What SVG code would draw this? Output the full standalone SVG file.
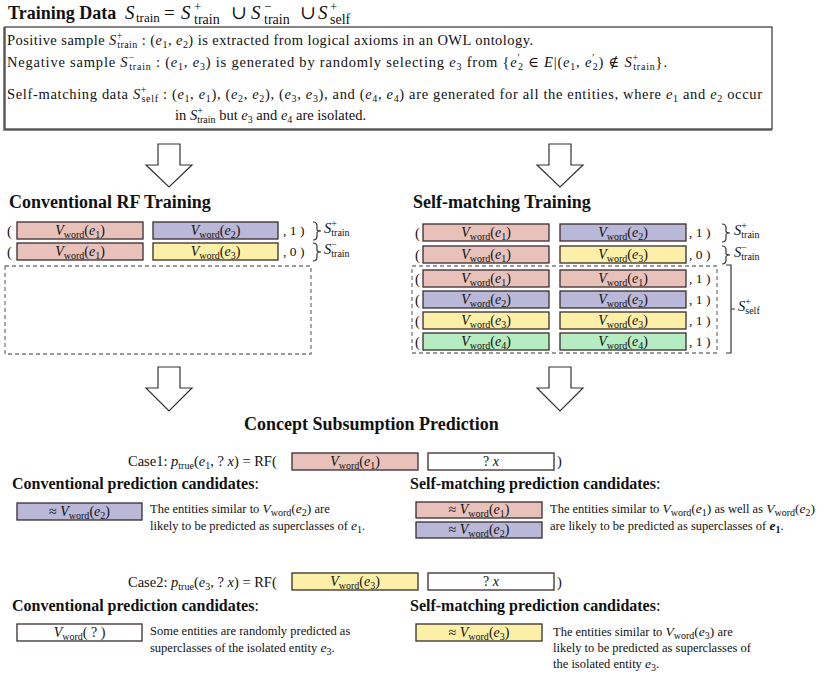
<svg xmlns="http://www.w3.org/2000/svg" width="830" height="675" viewBox="0 0 830 675" font-family="'Liberation Serif', 'DejaVu Serif', serif">
<style>
text { font-family: "Liberation Serif", "Times New Roman", "DejaVu Serif", serif; fill: #111; }
.h { font-weight: bold; font-size: 18px; }
.h2 { font-weight: bold; font-size: 16px; }
.t { font-size: 14.5px; }
.d { font-size: 12.5px; }
.bl { font-size: 14px; text-anchor: middle; }
.i { font-style: italic; }
.sb { font-size: 10px; font-style: normal; }
.sp { font-size: 10px; font-style: normal; }
.m { font-size: 13.5px; }
.pk { fill: #e8c1bb; } .pu { fill: #b9b8d8; } .ye { fill: #fcf0a8; } .gr { fill: #b5ecc1; } .wh { fill: #ffffff; }
.box { stroke: #3a2c2e; stroke-width: 1.3; }
.dash { fill: none; stroke: #7a7a7a; stroke-width: 1.3; stroke-dasharray: 4 3; }
.arrow { fill: #ffffff; stroke: #333; stroke-width: 1.2; stroke-linejoin: miter; }
.brace { fill: none; stroke: #333; stroke-width: 1.2; }
</style>

<!-- Title -->
<g id="title">
  <text class="h" x="8" y="19">Training Data</text>
  <text font-size="19"><tspan class="i" x="125" y="19">S</tspan><tspan font-size="13" x="136" y="22">train</tspan><tspan x="164" y="19">=</tspan><tspan class="i" x="181" y="19">S</tspan><tspan font-size="13" x="194" y="11">+</tspan><tspan font-size="14" x="194" y="24">train</tspan><tspan x="231" y="19">∪</tspan><tspan class="i" x="251" y="19">S</tspan><tspan font-size="13" x="264" y="11">−</tspan><tspan font-size="14" x="264" y="24">train</tspan><tspan x="300" y="19">∪</tspan><tspan class="i" x="318" y="19">S</tspan><tspan font-size="13" x="330" y="11">+</tspan><tspan font-size="14" x="330" y="24">self</tspan></text>
</g>

<!-- Training data box -->
<g id="training-data">
  <path d="M4,27 V130 H772" fill="none" stroke="#8a8a8a" stroke-width="2"/>
  <rect x="5" y="27" width="767" height="102" fill="none" stroke="#333" stroke-width="1.2"/>
  <text class="t" x="7" y="45" textLength="526">Positive sample <tspan class="i">S</tspan><tspan class="sp" dy="-6">+</tspan><tspan class="sb" dx="-5.6" dy="9">train</tspan><tspan dy="-3"> : (</tspan><tspan class="i">e</tspan><tspan class="sb" dy="3">1</tspan><tspan dy="-3">, </tspan><tspan class="i">e</tspan><tspan class="sb" dy="3">2</tspan><tspan dy="-3">) is extracted from logical axioms in an OWL ontology.</tspan></text>
  <text class="t" x="7" y="67" textLength="660">Negative sample <tspan class="i">S</tspan><tspan class="sp" dy="-6">−</tspan><tspan class="sb" dx="-5.6" dy="9">train</tspan><tspan dy="-3"> : (</tspan><tspan class="i">e</tspan><tspan class="sb" dy="3">1</tspan><tspan dy="-3">, </tspan><tspan class="i">e</tspan><tspan class="sb" dy="3">3</tspan><tspan dy="-3">) is generated by randomly selecting </tspan><tspan class="i">e</tspan><tspan class="sb" dy="3">3</tspan><tspan dy="-3"> from {</tspan><tspan class="i">e</tspan><tspan class="sp" dy="-6">′</tspan><tspan class="sb" dx="-2.5" dy="9">2</tspan><tspan dy="-3"> ∈ </tspan><tspan class="i">E</tspan><tspan>|(</tspan><tspan class="i">e</tspan><tspan class="sb" dy="3">1</tspan><tspan dy="-3">, </tspan><tspan class="i">e</tspan><tspan class="sp" dy="-6">′</tspan><tspan class="sb" dx="-2.5" dy="9">2</tspan><tspan dy="-3">) ∉ </tspan><tspan class="i">S</tspan><tspan class="sp" dy="-6">+</tspan><tspan class="sb" dx="-5.6" dy="9">train</tspan><tspan dy="-3">}.</tspan></text>
  <text class="t" x="7" y="99" textLength="755">Self-matching data <tspan class="i">S</tspan><tspan class="sp" dy="-6">+</tspan><tspan class="sb" dx="-5.6" dy="9">self</tspan><tspan dy="-3"> : (</tspan><tspan class="i">e</tspan><tspan class="sb" dy="3">1</tspan><tspan dy="-3">, </tspan><tspan class="i">e</tspan><tspan class="sb" dy="3">1</tspan><tspan dy="-3">), (</tspan><tspan class="i">e</tspan><tspan class="sb" dy="3">2</tspan><tspan dy="-3">, </tspan><tspan class="i">e</tspan><tspan class="sb" dy="3">2</tspan><tspan dy="-3">), (</tspan><tspan class="i">e</tspan><tspan class="sb" dy="3">3</tspan><tspan dy="-3">, </tspan><tspan class="i">e</tspan><tspan class="sb" dy="3">3</tspan><tspan dy="-3">), and (</tspan><tspan class="i">e</tspan><tspan class="sb" dy="3">4</tspan><tspan dy="-3">, </tspan><tspan class="i">e</tspan><tspan class="sb" dy="3">4</tspan><tspan dy="-3">) are generated for all the entities, where </tspan><tspan class="i">e</tspan><tspan class="sb" dy="3">1</tspan><tspan dy="-3"> and </tspan><tspan class="i">e</tspan><tspan class="sb" dy="3">2</tspan><tspan dy="-3"> occur</tspan></text>
  <text class="t" x="175" y="120">in <tspan class="i">S</tspan><tspan class="sp" dy="-6">+</tspan><tspan class="sb" dx="-5.6" dy="9">train</tspan><tspan dy="-3"> but </tspan><tspan class="i">e</tspan><tspan class="sb" dy="3">3</tspan><tspan dy="-3"> and </tspan><tspan class="i">e</tspan><tspan class="sb" dy="3">4</tspan><tspan dy="-3"> are isolated.</tspan></text>
</g>

<!-- Connectors: block arrows and braces -->
<g id="connectors">
  <polygon class="arrow" points="158,144 180,144 180,165 192,165 169,187 146,165 158,165"/>
  <polygon class="arrow" points="549,144 571,144 571,165 583,165 560,187 537,165 549,165"/>
  <polygon class="arrow" points="158,367 180,367 180,388 192,388 169,411 146,388 158,388"/>
  <polygon class="arrow" points="549,367 571,367 571,388 583,388 560,411 537,388 549,388"/>
  <path class="brace" d="M313,222 q4,0 4,4 v3 q0,2 4,2 q-4,0 -4,2 v3 q0,4 -4,4"/>
  <path class="brace" d="M313,243 q4,0 4,4 v3 q0,2 4,2 q-4,0 -4,2 v3 q0,4 -4,4"/>
  <path class="brace" d="M722,224 q4,0 4,4 v3 q0,2 4,2 q-4,0 -4,2 v3 q0,4 -4,4"/>
  <path class="brace" d="M722,246 q4,0 4,4 v3 q0,2 4,2 q-4,0 -4,2 v3 q0,4 -4,4"/>
  <path class="brace" d="M726,265 H731 V353 H726 M731,309 H735"/>
</g>

<!-- Conventional RF Training -->
<g id="conventional-training">
  <text class="h" x="9" y="208">Conventional RF Training</text>
  <text class="t" x="7" y="236">(</text>
  <rect class="box pk" x="17" y="222" width="126" height="17"/>
  <text class="bl" x="80" y="235"><tspan class="i">V</tspan><tspan class="sb" dy="3">word</tspan><tspan dy="-3">(</tspan><tspan class="i">e</tspan><tspan class="sb" dy="3">1</tspan><tspan dy="-3">)</tspan></text>
  <rect class="box pu" x="153" y="222" width="125" height="17"/>
  <text class="bl" x="215.5" y="235"><tspan class="i">V</tspan><tspan class="sb" dy="3">word</tspan><tspan dy="-3">(</tspan><tspan class="i">e</tspan><tspan class="sb" dy="3">2</tspan><tspan dy="-3">)</tspan></text>
  <text class="m" x="283" y="235">, 1 )</text>
  <text class="t" x="324" y="233"><tspan class="i">S</tspan><tspan class="sp" dy="-6">+</tspan><tspan class="sb" dx="-5.6" dy="9">train</tspan></text>
  <text class="t" x="7" y="257">(</text>
  <rect class="box pk" x="17" y="243" width="126" height="17"/>
  <text class="bl" x="80" y="256"><tspan class="i">V</tspan><tspan class="sb" dy="3">word</tspan><tspan dy="-3">(</tspan><tspan class="i">e</tspan><tspan class="sb" dy="3">1</tspan><tspan dy="-3">)</tspan></text>
  <rect class="box ye" x="153" y="243" width="125" height="17"/>
  <text class="bl" x="215.5" y="256"><tspan class="i">V</tspan><tspan class="sb" dy="3">word</tspan><tspan dy="-3">(</tspan><tspan class="i">e</tspan><tspan class="sb" dy="3">3</tspan><tspan dy="-3">)</tspan></text>
  <text class="m" x="283" y="256">, 0 )</text>
  <text class="t" x="324" y="254"><tspan class="i">S</tspan><tspan class="sp" dy="-6">−</tspan><tspan class="sb" dx="-5.6" dy="9">train</tspan></text>
  <rect class="dash" x="5" y="266" width="306" height="88"/>
</g>

<!-- Self-matching Training -->
<g id="self-matching-training">
  <text class="h" x="413" y="208">Self-matching Training</text>
  <text class="t" x="415" y="238">(</text>
  <rect class="box pk" x="423" y="224" width="126" height="17"/>
  <text class="bl" x="486" y="237"><tspan class="i">V</tspan><tspan class="sb" dy="3">word</tspan><tspan dy="-3">(</tspan><tspan class="i">e</tspan><tspan class="sb" dy="3">1</tspan><tspan dy="-3">)</tspan></text>
  <rect class="box pu" x="560" y="224" width="126" height="17"/>
  <text class="bl" x="623" y="237"><tspan class="i">V</tspan><tspan class="sb" dy="3">word</tspan><tspan dy="-3">(</tspan><tspan class="i">e</tspan><tspan class="sb" dy="3">2</tspan><tspan dy="-3">)</tspan></text>
  <text class="m" x="689" y="237">, 1 )</text>
  <text class="t" x="734" y="235"><tspan class="i">S</tspan><tspan class="sp" dy="-6">+</tspan><tspan class="sb" dx="-5.6" dy="9">train</tspan></text>

  <text class="t" x="415" y="260">(</text>
  <rect class="box pk" x="423" y="246" width="126" height="17"/>
  <text class="bl" x="486" y="259"><tspan class="i">V</tspan><tspan class="sb" dy="3">word</tspan><tspan dy="-3">(</tspan><tspan class="i">e</tspan><tspan class="sb" dy="3">1</tspan><tspan dy="-3">)</tspan></text>
  <rect class="box ye" x="560" y="246" width="126" height="17"/>
  <text class="bl" x="623" y="259"><tspan class="i">V</tspan><tspan class="sb" dy="3">word</tspan><tspan dy="-3">(</tspan><tspan class="i">e</tspan><tspan class="sb" dy="3">3</tspan><tspan dy="-3">)</tspan></text>
  <text class="m" x="689" y="259">, 0 )</text>
  <text class="t" x="734" y="257"><tspan class="i">S</tspan><tspan class="sp" dy="-6">−</tspan><tspan class="sb" dx="-5.6" dy="9">train</tspan></text>

  <rect class="dash" x="412" y="266" width="305" height="87"/>

  <text class="t" x="415" y="284">(</text>
  <rect class="box pk" x="423" y="270" width="126" height="17"/>
  <text class="bl" x="486" y="283"><tspan class="i">V</tspan><tspan class="sb" dy="3">word</tspan><tspan dy="-3">(</tspan><tspan class="i">e</tspan><tspan class="sb" dy="3">1</tspan><tspan dy="-3">)</tspan></text>
  <rect class="box pk" x="560" y="270" width="126" height="17"/>
  <text class="bl" x="623" y="283"><tspan class="i">V</tspan><tspan class="sb" dy="3">word</tspan><tspan dy="-3">(</tspan><tspan class="i">e</tspan><tspan class="sb" dy="3">1</tspan><tspan dy="-3">)</tspan></text>
  <text class="m" x="689" y="283">, 1 )</text>

  <text class="t" x="415" y="305">(</text>
  <rect class="box pu" x="423" y="291" width="126" height="17"/>
  <text class="bl" x="486" y="304"><tspan class="i">V</tspan><tspan class="sb" dy="3">word</tspan><tspan dy="-3">(</tspan><tspan class="i">e</tspan><tspan class="sb" dy="3">2</tspan><tspan dy="-3">)</tspan></text>
  <rect class="box pu" x="560" y="291" width="126" height="17"/>
  <text class="bl" x="623" y="304"><tspan class="i">V</tspan><tspan class="sb" dy="3">word</tspan><tspan dy="-3">(</tspan><tspan class="i">e</tspan><tspan class="sb" dy="3">2</tspan><tspan dy="-3">)</tspan></text>
  <text class="m" x="689" y="304">, 1 )</text>

  <text class="t" x="415" y="326">(</text>
  <rect class="box ye" x="423" y="312" width="126" height="17"/>
  <text class="bl" x="486" y="325"><tspan class="i">V</tspan><tspan class="sb" dy="3">word</tspan><tspan dy="-3">(</tspan><tspan class="i">e</tspan><tspan class="sb" dy="3">3</tspan><tspan dy="-3">)</tspan></text>
  <rect class="box ye" x="560" y="312" width="126" height="17"/>
  <text class="bl" x="623" y="325"><tspan class="i">V</tspan><tspan class="sb" dy="3">word</tspan><tspan dy="-3">(</tspan><tspan class="i">e</tspan><tspan class="sb" dy="3">3</tspan><tspan dy="-3">)</tspan></text>
  <text class="m" x="689" y="325">, 1 )</text>

  <text class="t" x="415" y="347">(</text>
  <rect class="box gr" x="423" y="333" width="126" height="17"/>
  <text class="bl" x="486" y="346"><tspan class="i">V</tspan><tspan class="sb" dy="3">word</tspan><tspan dy="-3">(</tspan><tspan class="i">e</tspan><tspan class="sb" dy="3">4</tspan><tspan dy="-3">)</tspan></text>
  <rect class="box gr" x="560" y="333" width="126" height="17"/>
  <text class="bl" x="623" y="346"><tspan class="i">V</tspan><tspan class="sb" dy="3">word</tspan><tspan dy="-3">(</tspan><tspan class="i">e</tspan><tspan class="sb" dy="3">4</tspan><tspan dy="-3">)</tspan></text>
  <text class="m" x="689" y="346">, 1 )</text>

  <text class="t" x="738" y="311"><tspan class="i">S</tspan><tspan class="sp" dy="-6">+</tspan><tspan class="sb" dx="-5.6" dy="9">self</tspan></text>
</g>

<!-- Concept Subsumption Prediction -->
<g id="prediction-title">
  <text class="h" x="244" y="430">Concept Subsumption Prediction</text>
</g>

<!-- Case 1 -->
<g id="case1">
  <text x="128" y="466" font-size="14.5">Case1:  <tspan class="i">p</tspan><tspan class="sb" dy="3">true</tspan><tspan dy="-3">(</tspan><tspan class="i">e</tspan><tspan class="sb" dy="3">1</tspan><tspan dy="-3">, ? </tspan><tspan class="i">x</tspan><tspan>) = RF(</tspan></text>
  <rect class="box pk" x="292" y="453" width="126" height="17"/>
  <text class="bl" x="355" y="466"><tspan class="i">V</tspan><tspan class="sb" dy="3">word</tspan><tspan dy="-3">(</tspan><tspan class="i">e</tspan><tspan class="sb" dy="3">1</tspan><tspan dy="-3">)</tspan></text>
  <rect class="box wh" x="428" y="453" width="126" height="17"/>
  <text class="bl" x="491" y="466">? <tspan class="i">x</tspan></text>
  <text x="557" y="466" font-size="14.5">)</text>
</g>

<g id="case1-conventional">
  <text class="h2" x="12" y="489">Conventional prediction candidates<tspan font-weight="normal">:</tspan></text>
  <rect class="box pu" x="17" y="503" width="125" height="17"/>
  <text class="bl" x="79.5" y="516">≈ <tspan class="i">V</tspan><tspan class="sb" dy="3">word</tspan><tspan dy="-3">(</tspan><tspan class="i">e</tspan><tspan class="sb" dy="3">2</tspan><tspan dy="-3">)</tspan></text>
  <text class="d" x="150" y="513">The entities similar to <tspan class="i" font-size="13.5">V</tspan><tspan class="sb" dy="3">word</tspan><tspan dy="-3" font-size="13.5">(</tspan><tspan class="i" font-size="13.5">e</tspan><tspan class="sb" dy="3">2</tspan><tspan dy="-3" font-size="13.5">)</tspan><tspan> are</tspan></text>
  <text class="d" x="150" y="530">likely to be predicted as superclasses of <tspan class="i" font-size="13.5">e</tspan><tspan class="sb" dy="3">1</tspan><tspan dy="-3">.</tspan></text>
</g>

<g id="case1-self">
  <text class="h2" x="410" y="489">Self-matching prediction candidates<tspan font-weight="normal">:</tspan></text>
  <rect class="box pk" x="416" y="502" width="126" height="16"/>
  <text class="bl" x="479" y="514">≈ <tspan class="i">V</tspan><tspan class="sb" dy="3">word</tspan><tspan dy="-3">(</tspan><tspan class="i">e</tspan><tspan class="sb" dy="3">1</tspan><tspan dy="-3">)</tspan></text>
  <rect class="box pu" x="416" y="522" width="126" height="16"/>
  <text class="bl" x="479" y="534">≈ <tspan class="i">V</tspan><tspan class="sb" dy="3">word</tspan><tspan dy="-3">(</tspan><tspan class="i">e</tspan><tspan class="sb" dy="3">2</tspan><tspan dy="-3">)</tspan></text>
  <text class="d" x="550" y="513">The entities similar to <tspan class="i" font-size="13.5">V</tspan><tspan class="sb" dy="3">word</tspan><tspan dy="-3" font-size="13.5">(</tspan><tspan class="i" font-size="13.5">e</tspan><tspan class="sb" dy="3">1</tspan><tspan dy="-3" font-size="13.5">)</tspan><tspan> as well as </tspan><tspan class="i" font-size="13.5">V</tspan><tspan class="sb" dy="3">word</tspan><tspan dy="-3" font-size="13.5">(</tspan><tspan class="i" font-size="13.5">e</tspan><tspan class="sb" dy="3">2</tspan><tspan dy="-3" font-size="13.5">)</tspan></text>
  <text class="d" x="550" y="530">are likely to be predicted as superclasses of <tspan class="i" font-weight="bold" font-size="13.5">e</tspan><tspan class="sb" font-weight="bold" dy="3">1</tspan><tspan dy="-3">.</tspan></text>
</g>

<!-- Case 2 -->
<g id="case2">
  <text x="128" y="587" font-size="14.5">Case2:  <tspan class="i">p</tspan><tspan class="sb" dy="3">true</tspan><tspan dy="-3">(</tspan><tspan class="i">e</tspan><tspan class="sb" dy="3">3</tspan><tspan dy="-3">, ? </tspan><tspan class="i">x</tspan><tspan>) = RF(</tspan></text>
  <rect class="box ye" x="292" y="573" width="126" height="17"/>
  <text class="bl" x="355" y="586"><tspan class="i">V</tspan><tspan class="sb" dy="3">word</tspan><tspan dy="-3">(</tspan><tspan class="i">e</tspan><tspan class="sb" dy="3">3</tspan><tspan dy="-3">)</tspan></text>
  <rect class="box wh" x="428" y="573" width="126" height="17"/>
  <text class="bl" x="491" y="586">? <tspan class="i">x</tspan></text>
  <text x="557" y="587" font-size="14.5">)</text>
</g>

<g id="case2-conventional">
  <text class="h2" x="12" y="611">Conventional prediction candidates<tspan font-weight="normal">:</tspan></text>
  <rect class="box wh" x="17" y="624" width="125" height="17"/>
  <text class="bl" x="79.5" y="637"><tspan class="i">V</tspan><tspan class="sb" dy="3">word</tspan><tspan dy="-3">( ? )</tspan></text>
  <text class="d" x="150" y="635">Some entities are randomly predicted as</text>
  <text class="d" x="150" y="652">superclasses of the isolated entity <tspan class="i" font-size="13.5">e</tspan><tspan class="sb" dy="3">3</tspan><tspan dy="-3">.</tspan></text>
</g>

<g id="case2-self">
  <text class="h2" x="410" y="611">Self-matching prediction candidates<tspan font-weight="normal">:</tspan></text>
  <rect class="box ye" x="416" y="624" width="126" height="17"/>
  <text class="bl" x="479" y="637">≈ <tspan class="i">V</tspan><tspan class="sb" dy="3">word</tspan><tspan dy="-3">(</tspan><tspan class="i">e</tspan><tspan class="sb" dy="3">3</tspan><tspan dy="-3">)</tspan></text>
  <text class="d" x="553" y="636">The entities similar to <tspan class="i" font-size="13.5">V</tspan><tspan class="sb" dy="3">word</tspan><tspan dy="-3" font-size="13.5">(</tspan><tspan class="i" font-size="13.5">e</tspan><tspan class="sb" dy="3">3</tspan><tspan dy="-3" font-size="13.5">)</tspan><tspan> are</tspan></text>
  <text class="d" x="553" y="652">likely to be predicted as superclasses of</text>
  <text class="d" x="553" y="668">the isolated entity <tspan class="i" font-size="13.5">e</tspan><tspan class="sb" dy="3">3</tspan><tspan dy="-3">.</tspan></text>
</g>
</svg>
